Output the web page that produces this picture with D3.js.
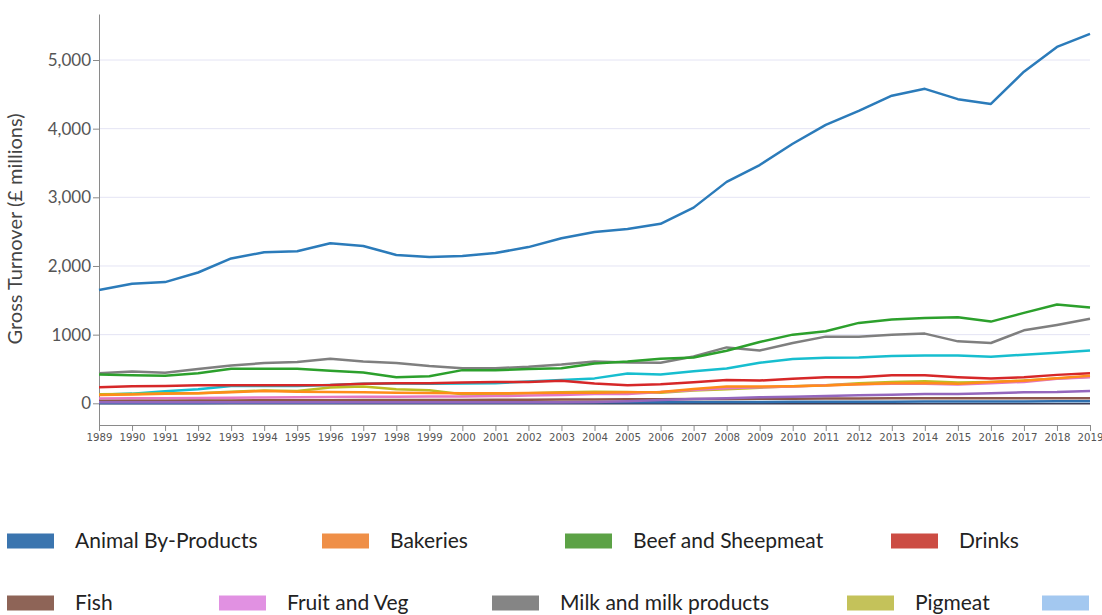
<!DOCTYPE html>
<html>
<head>
<meta charset="utf-8">
<script src="https://cdn.jsdelivr.net/npm/d3@7"></script>
<style>
  html, body { margin: 0; padding: 0; background: #fff; }
  svg { display: block; }
  .ytick text { font-family: Lato, "Open Sans", sans-serif; font-size: 17px; fill: #555; }
  .xtick text { font-family: "DejaVu Sans", Verdana, sans-serif; font-size: 10.2px; fill: #555; }
  .legend text { font-family: Lato, "Open Sans", sans-serif; font-size: 21px; fill: #222; }
</style>
</head>
<body>
<svg id="chart" width="1102" height="615"></svg>
<script>
// Gross turnover by sector, £ millions, 1989–2019
const years = d3.range(1989, 2020);

const animalByProducts = [1650,1740,1765,1905,2110,2200,2215,2330,2290,2160,2130,2145,2190,2275,2405,2495,2540,2615,2850,3225,3470,3780,4055,4260,4480,4580,4430,4360,4830,5190,5380];
const bakeries = [120,130,140,145,160,180,170,165,160,155,150,145,145,150,155,155,161,165,209,243,243,249,258,278,293,297,283,312,327,366,400];
const beefSheepmeat = [419,410,400,439,502,502,502,473,448,381,395,483,483,498,512,580,609,649,668,766,893,1000,1049,1171,1220,1244,1254,1190,1317,1439,1395];
const drinks = [234,249,253,264,264,264,264,268,283,293,293,302,312,312,327,290,264,278,307,341,331,356,380,380,410,410,380,360,380,414,439];
const eggs = [15,15,15,15,15,15,15,15,15,15,15,15,15,15,17,19,29,48,63,73,88,97,107,117,126,136,136,146,161,165,180];
const fish = [35,36,38,40,42,44,45,46,47,48,48,49,50,52,54,56,58,60,62,64,66,68,70,70,72,72,72,73,73,74,75];
const fruitVeg = [70,72,75,78,82,85,88,92,95,97,98,100,105,112,120,136,137,165,195,220,234,243,263,278,283,283,273,293,312,356,380];
const milk = [439,463,444,498,551,586,600,649,609,586,542,512,512,531,565,610,595,590,683,814,770,878,971,971,1000,1015,902,878,1063,1142,1230];
const pigmeat = [132,137,146,146,170,185,180,229,244,205,190,132,132,146,161,170,165,155,185,205,228,249,264,293,312,322,302,312,331,360,385];
const poultry = [126,141,176,205,253,253,253,268,283,288,283,288,293,317,341,363,434,419,468,507,590,644,663,668,688,697,697,678,707,736,770];
const sugar = [5,5,6,6,7,8,8,9,10,10,11,12,12,13,14,15,16,17,18,19,20,21,22,23,24,25,26,27,28,29,30];
const other = [-8,-8,-8,-8,-8,-8,-8,-8,-8,-8,-8,-8,-8,-8,-8,-8,-8,-8,-8,-8,-8,-8,-8,-8,-8,-8,-8,-8,-8,-8,-8];

const seriesNames = ["Animal By-Products","Bakeries","Beef and Sheepmeat","Drinks","Eggs","Fish","Fruit and Veg","Milk and milk products","Pigmeat","Poultry","Sugar","Other"];
const seriesValues = [animalByProducts,bakeries,beefSheepmeat,drinks,eggs,fish,fruitVeg,milk,pigmeat,poultry,sugar,other];
const lineColors = ["#2b7bba","#ff8c1a","#2ca02c","#d62728","#9467bd","#8c564b","#e377c2","#7f7f7f","#bcbd22","#17becf","#2f6fae","#3d3d55"];

// legend entries and their swatch colours (the last entry runs past the right edge, swatch only)
const legendNames = ["Animal By-Products","Bakeries","Beef and Sheepmeat","Drinks","Fish","Fruit and Veg","Milk and milk products","Pigmeat",""];
const legendColors = ["#3b75af","#ef8f47","#5ca246","#cc4c43","#8e6457","#e191e2","#858585","#c4c25a","#a3c8f0"];

const yTickValues = [0,1000,2000,3000,4000,5000];
const yTickLabels = ["0","1000","2,000","3,000","4,000","5,000"];

const svg = d3.select("#chart");

const x = d3.scaleLinear().domain([1989, 2019]).range([99, 1090]);
const y = d3.scaleLinear().domain([-316, 5670]).range([425, 14]);

// gridlines
svg.append("g")
  .selectAll("line")
  .data(yTickValues.filter(v => v > 0))
  .join("line")
  .attr("x1", 99).attr("x2", 1090)
  .attr("y1", d => y(d)).attr("y2", d => y(d))
  .attr("stroke", "#e4e4f4").attr("stroke-width", 1);

// y axis
const yAxis = svg.append("g")
  .attr("class", "ytick")
  .attr("transform", "translate(99,0)")
  .call(d3.axisLeft(y).tickValues(yTickValues)
    .tickFormat((d, i) => yTickLabels[i]).tickSize(6).tickSizeOuter(0).tickPadding(2));
yAxis.select(".domain").attr("stroke", "#8a8a8a");
yAxis.selectAll(".tick line").attr("stroke", "#8a8a8a");

// x axis
const xAxis = svg.append("g")
  .attr("class", "xtick")
  .attr("transform", "translate(0,425)")
  .call(d3.axisBottom(x).tickValues(years).tickFormat(d3.format("d")).tickSize(6).tickSizeOuter(0).tickPadding(3));
xAxis.select(".domain").attr("stroke", "#8a8a8a");
xAxis.selectAll(".tick line").attr("stroke", "#8a8a8a");

// y axis title
svg.append("text")
  .attr("transform", "translate(22,229) rotate(-90)")
  .attr("text-anchor", "middle")
  .attr("font-family", "Lato, 'Open Sans', sans-serif")
  .attr("font-size", 20)
  .attr("fill", "#444")
  .text("Gross Turnover (£ millions)");

// lines, drawn bottom-up so the larger series sit on top
const line = d3.line().x((d, i) => x(years[i])).y(d => y(d));
const order = d3.range(seriesValues.length).reverse();
svg.append("g")
  .selectAll("path")
  .data(order)
  .join("path")
  .attr("d", i => line(seriesValues[i]))
  .attr("fill", "none")
  .attr("stroke", i => lineColors[i])
  .attr("stroke-width", i => i === 11 ? 1.5 : 2.5)
  .attr("stroke-linejoin", "round");

// legend, flowed in two rows
const legendPos = [[7,541],[322,541],[565,541],[891,541],[7,603],[219,603],[492,603],[847,603],[1042,603]];
const leg = svg.append("g").attr("class", "legend")
  .selectAll("g")
  .data(legendNames)
  .join("g")
  .attr("transform", (d, i) => `translate(${legendPos[i][0]},${legendPos[i][1]})`);
leg.append("rect")
  .attr("x", 0).attr("y", -7.5).attr("width", 47).attr("height", 15)
  .attr("fill", (d, i) => legendColors[i]);
leg.filter(d => d !== "").append("text")
  .attr("x", 68).attr("y", 7)
  .text(d => d);
</script>
</body>
</html>
